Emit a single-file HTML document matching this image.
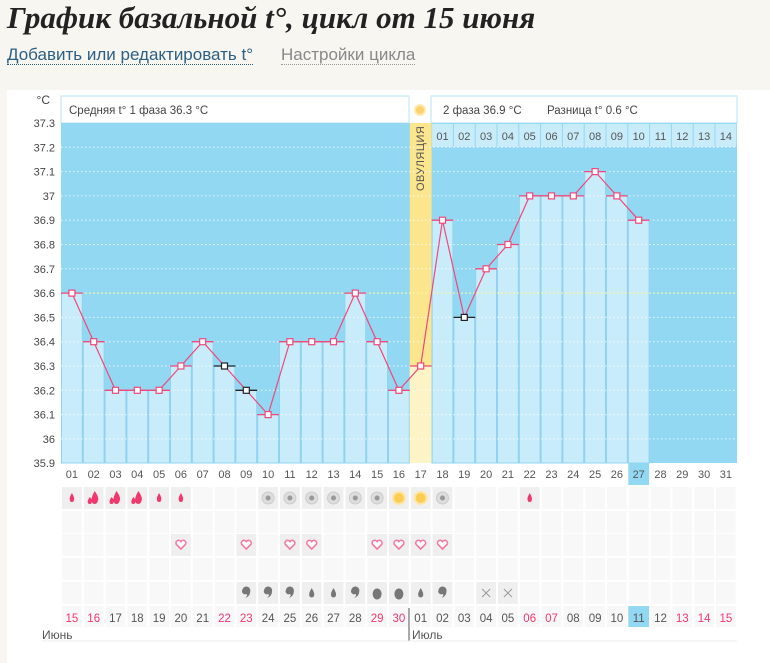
<!DOCTYPE html>
<html><head><meta charset="utf-8">
<style>
html,body{margin:0;padding:0;width:770px;height:663px;overflow:hidden;background:#f8f6f1;font-family:"Liberation Sans",sans-serif;}
#t{position:absolute;left:7px;top:0px;font-family:"Liberation Serif",serif;font-style:italic;font-weight:bold;font-size:31px;color:#222;white-space:nowrap}
#l1{position:absolute;left:7px;top:45px;font-size:17px;color:#2d5f82;border-bottom:1px dotted #2d5f82;line-height:19px}
#l2{position:absolute;left:281px;top:45px;font-size:17px;color:#888;border-bottom:1px dotted #999;line-height:19px}
#card{position:absolute;left:7px;top:90px;width:763px;height:573px;background:#fff}
svg{position:absolute;left:0;top:0}
</style></head><body>
<div id="t">График базальной t°, цикл от 15 июня</div>
<div id="l1">Добавить или редактировать t°</div>
<div id="l2">Настройки цикла</div>
<div id="card"></div>
<svg id="s" width="770" height="663" xmlns="http://www.w3.org/2000/svg" font-family="Liberation Sans, sans-serif"></svg>
<script>
var s=document.getElementById('s');var h='';
var X0=61,W=21.8,Y0=123,U=24.3;
function cx(i){return X0+W*(i-0.5);}
function y(v){return Y0+(37.3-v)*10*U;}
var T=[36.6,36.4,36.2,36.2,36.2,36.3,36.4,36.3,36.2,36.1,36.4,36.4,36.4,36.6,36.4,36.2,36.3,36.9,36.5,36.7,36.8,37.0,37.0,37.0,37.1,37.0,36.9];
var blk={8:1,9:1,19:1};
h+='<rect x="61" y="96" width="348" height="27" fill="#fff" stroke="#b5e3f5"/>';
h+='<rect x="431" y="96" width="306" height="27" fill="#fff" stroke="#b5e3f5"/>';
h+='<text x="69" y="114" font-size="11.5" fill="#444">Средняя t° 1 фаза 36.3 °C</text>';
h+='<text x="443" y="114" font-size="11.5" fill="#444">2 фаза 36.9 °C</text><text x="547" y="114" font-size="11.5" fill="#444">Разница t° 0.6 °C</text>';
h+='<circle cx="420" cy="110" r="5" fill="#fbd36a" stroke="#fde9b0" stroke-width="2"/>';
h+='<text x="50" y="104" font-size="12" fill="#444" text-anchor="end">°C</text>';
h+='<rect x="61" y="123" width="676" height="340" fill="#92d8f3"/>';
for(var i=1;i<=27;i++){var x=X0+W*(i-1);var yy=y(T[i-1]);
 if(i==17){h+='<rect x="'+x+'" y="123" width="'+W+'" height="340" fill="#fbe58d"/><rect x="'+x+'" y="'+yy+'" width="'+W+'" height="'+(463-yy)+'" fill="#fdf4c6"/>';}
 else h+='<rect x="'+(x+0.5)+'" y="'+yy+'" width="'+(W-1)+'" height="'+(463-yy)+'" fill="#c9ecfb" stroke="#8fd3f0" stroke-width="1"/>';}
for(var k=1;k<=14;k++){var x=X0+W*(16+k);h+='<rect x="'+(x+0.5)+'" y="124" width="'+(W-1)+'" height="23" fill="#c9ecfb"/><text x="'+(x+W/2)+'" y="140" font-size="11" fill="#555" text-anchor="middle">'+(k<10?'0'+k:k)+'</text>';}
h+='<text transform="translate(424,191) rotate(-90)" font-size="11" fill="#555" letter-spacing="0.5">ОВУЛЯЦИЯ</text>';
for(var g=1;g<14;g++){var gy=Y0+g*U;h+='<line x1="61" y1="'+gy+'" x2="737" y2="'+gy+'" stroke="#fff" stroke-dasharray="1.5,2.5" stroke-opacity="0.8"/>';}
h+='<line x1="61" y1="'+y(36.6)+'" x2="737" y2="'+y(36.6)+'" stroke="#fff59a" stroke-dasharray="2,2"/>';
for(var g=0;g<=14;g++){var v=(37.3-g/10);var t=v.toFixed(1).replace(/\.0$/,'');h+='<text x="55" y="'+(Y0+g*U+4)+'" font-size="11" fill="#444" text-anchor="end">'+t+'</text>';}
var p='';for(var i=1;i<=27;i++)p+=cx(i)+','+y(T[i-1])+' ';
h+='<polyline points="'+p+'" fill="none" stroke="#f0487a" stroke-width="1.2"/>';
for(var i=1;i<=27;i++){var x=X0+W*(i-1),yy=y(T[i-1]);var c=blk[i]?'#222':'#f0487a';
 h+='<line x1="'+x+'" y1="'+yy+'" x2="'+(x+W)+'" y2="'+yy+'" stroke="'+c+'" stroke-width="1.3"/><rect x="'+(cx(i)-3)+'" y="'+(yy-3)+'" width="6" height="6" fill="#fff" stroke="'+c+'" stroke-width="1.2"/>';}
for(var i=1;i<=31;i++){var x=cx(i);if(i==27)h+='<rect x="'+(x-W/2+0.5)+'" y="463" width="'+(W-1)+'" height="22" fill="#92d8f3"/>';
 h+='<text x="'+x+'" y="478" font-size="11" fill="#555" text-anchor="middle">'+(i<10?'0'+i:i)+'</text>';}
var rows=[487,511,534,558,582];
var r1={1:'ds',2:'db',3:'db',4:'db',5:'ds',6:'ds',10:'g',11:'g',12:'g',13:'g',14:'g',15:'g',16:'y',17:'y',18:'g',22:'ds'};
var r3={6:1,9:1,11:1,12:1,15:1,16:1,17:1,18:1};
var r5={9:'c',10:'c',11:'c',12:'s',13:'s',14:'c',15:'b',16:'b',17:'s',18:'c',20:'x',21:'x'};
for(var r=0;r<5;r++)for(var i=1;i<=31;i++){var x=X0+W*(i-1);var on=(r==0&&r1[i])||(r==2&&r3[i])||(r==4&&r5[i]);
 h+='<rect x="'+(x+1)+'" y="'+rows[r]+'" width="'+(W-2)+'" height="22" fill="'+(on?'#efefef':'#f8f8f8')+'"/>';
 var c=cx(i),m=rows[r]+11;
 if(r==0&&r1[i]){var k=r1[i];
  if(k=='ds')h+='<path d="M'+c+','+(m-5)+' q3,5 2,7 a2,2 0 0 1 -4,0 q-1,-2 2,-7z" fill="#f0386e"/>';
  if(k=='db')h+='<path d="M'+(c+1)+','+(m-7)+' q5,7 3,10 a3,3 0 0 1 -6,0 q-1,-3 3,-10z M'+(c-4)+','+(m-1)+' q3,3 2,5 a2,2 0 0 1 -4,0 q0,-2 2,-5z" fill="#f0386e"/>';
  if(k=='g')h+='<circle cx="'+c+'" cy="'+m+'" r="6" fill="#ddd" stroke="#ccc"/><circle cx="'+c+'" cy="'+m+'" r="2.5" fill="#999"/>';
  if(k=='y')h+='<circle cx="'+c+'" cy="'+m+'" r="6" fill="#fbcd55" stroke="#fde6a5" stroke-width="2"/>';}
 if(r==2&&r3[i])h+='<path d="M'+c+','+(m+4)+' l-4.5,-4.5 a2.3,2.3 0 0 1 4.5,-3 a2.3,2.3 0 0 1 4.5,3z" fill="#fff" stroke="#f57aa0" stroke-width="1.6"/>';
 if(r==4&&r5[i]){var k=r5[i];
  if(k=='c')h+='<path d="M'+(c-4)+','+(m-3)+' a4,4 0 0 1 8,1 q0,5 -5,7 q3,-3 1,-4 a3,3 0 0 1 -4,-4z" fill="#777"/>';
  if(k=='s')h+='<path d="M'+c+','+(m-5)+' q3,5 2.5,7 a2.5,2.5 0 0 1 -5,0 q-0.5,-2 2.5,-7z" fill="#777"/>';
  if(k=='b')h+='<ellipse cx="'+c+'" cy="'+(m+1)+'" rx="4.5" ry="5.5" fill="#777"/>';
  if(k=='x')h+='<path d="M'+(c-4)+','+(m-4)+' l8,8 M'+(c+4)+','+(m-4)+' l-8,8" stroke="#999" stroke-width="1"/>';}
}
var red={15:1,16:1,22:1,23:1,29:1,30:1,6:1,7:1,13:1,14:1};
for(var i=1;i<=31;i++){var d=i<=16?14+i:i-16;var x=X0+W*(i-1);
 if(i==27)h+='<rect x="'+(x+0.5)+'" y="606" width="'+(W-1)+'" height="21" fill="#92d8f3"/>';
 else h+='<rect x="'+(x+1)+'" y="606" width="'+(W-2)+'" height="21" fill="#f8f8f8"/>';
 h+='<text x="'+cx(i)+'" y="622" font-size="11.5" fill="'+(red[d]?'#f0386e':'#555')+'" text-anchor="middle">'+(d<10?'0'+d:d)+'</text>';}
h+='<line x1="409" y1="608" x2="409" y2="641" stroke="#555"/>';
h+='<line x1="42" y1="641" x2="737" y2="641" stroke="#eee"/>';
h+='<text x="42" y="639" font-size="12" fill="#555">Июнь</text><text x="412" y="639" font-size="12" fill="#555">Июль</text>';
s.innerHTML=h;
</script>
</body></html>
